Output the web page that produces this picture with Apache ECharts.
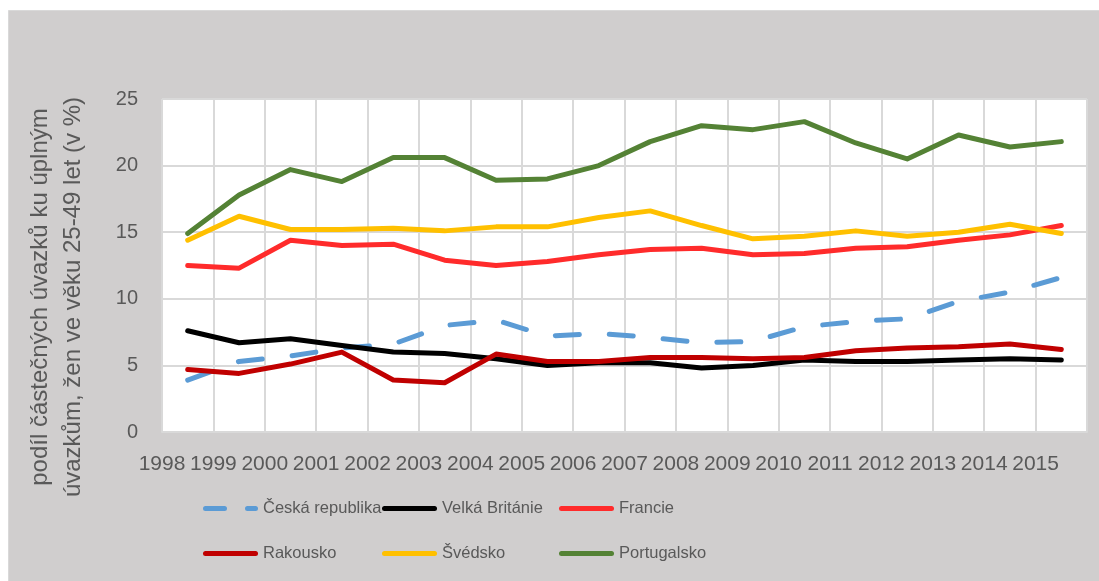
<!DOCTYPE html>
<html>
<head>
<meta charset="utf-8">
<script src="https://cdn.jsdelivr.net/npm/echarts@6/dist/echarts.min.js"></script>
<style>
html,body{margin:0;padding:0;background:#ffffff;}
#chart{width:1099px;height:581px;}
</style>
</head>
<body>
<div id="chart"></div>
<script>
// ---- data ----
var years = ['1998','1999','2000','2001','2002','2003','2004','2005','2006','2007','2008','2009','2010','2011','2012','2013','2014','2015'];
var yTicks = { min: 0, max: 25, interval: 5 };
var ceskaRepublika = [3.9, 5.3, 5.7, 6.3, 6.6, 8.0, 8.4, 7.2, 7.4, 7.1, 6.7, 6.8, 7.9, 8.3, 8.5, 9.8, 10.5, 11.6];
var velkaBritanie  = [7.6, 6.7, 7.0, 6.5, 6.0, 5.9, 5.5, 5.0, 5.2, 5.2, 4.8, 5.0, 5.4, 5.3, 5.3, 5.4, 5.5, 5.4];
var francie        = [12.5, 12.3, 14.4, 14.0, 14.1, 12.9, 12.5, 12.8, 13.3, 13.7, 13.8, 13.3, 13.4, 13.8, 13.9, 14.4, 14.8, 15.5];
var rakousko       = [4.7, 4.4, 5.1, 6.0, 3.9, 3.7, 5.85, 5.3, 5.3, 5.6, 5.6, 5.5, 5.6, 6.1, 6.3, 6.4, 6.6, 6.2];
var svedsko        = [14.4, 16.2, 15.2, 15.2, 15.3, 15.1, 15.4, 15.4, 16.1, 16.6, 15.5, 14.5, 14.7, 15.1, 14.7, 15.0, 15.6, 14.9];
var portugalsko    = [14.9, 17.8, 19.7, 18.8, 20.6, 20.6, 18.9, 19.0, 20.0, 21.8, 23.0, 22.7, 23.3, 21.7, 20.5, 22.3, 21.4, 21.8];
var seriesNames = ['Česká republika','Velká Británie','Francie','Rakousko','Švédsko','Portugalsko'];
var seriesData = [ceskaRepublika, velkaBritanie, francie, rakousko, svedsko, portugalsko];
var seriesColors = ['#5B9BD5','#000000','#FF2B2B','#C00000','#FFC000','#548235'];
var yAxisTitle = 'podíl částečných úvazků ku úplným\núvazkům, žen ve věku 25-49 let (v %)';

var FONT = 'Liberation Sans, Arial, sans-serif';
var TXT = '#595959';

var series = seriesNames.map(function (n, i) {
  return {
    name: n,
    type: 'line',
    xAxisIndex: 0,
    data: seriesData[i],
    symbol: 'none',
    smooth: false,
    lineStyle: {
      color: seriesColors[i],
      width: 5,
      type: i === 0 ? [24, 30] : 'solid',
      cap: 'round',
      join: 'round'
    },
    itemStyle: { color: seriesColors[i] },
    emphasis: { disabled: true }
  };
});

// legend icon shapes (rounded bars), 55 x 5
var solidIcon = 'path://M2.5,0H52.5A2.5,2.5,0,0,1,52.5,5H2.5A2.5,2.5,0,0,1,2.5,0Z';
var dashIcon = 'path://M2.5,0H21.5A2.5,2.5,0,0,1,21.5,5H2.5A2.5,2.5,0,0,1,2.5,0Z' +
               'M44.5,0H52.5A2.5,2.5,0,0,1,52.5,5H44.5A2.5,2.5,0,0,1,44.5,0Z';

var legendPos = [
  [203, 500], [382, 500], [559, 500],
  [203, 545], [382, 545], [559, 545]
];
var legends = seriesNames.map(function (n, i) {
  return {
    data: [{ name: n, icon: i === 0 ? dashIcon : solidIcon }],
    left: legendPos[i][0],
    top: legendPos[i][1],
    padding: 0,
    itemWidth: 55,
    itemHeight: 5,
    symbolKeepAspect: false,
    selectedMode: false,
    itemStyle: { color: seriesColors[i], borderWidth: 0 },
    textStyle: { fontFamily: FONT, fontSize: 16.5, color: TXT }
  };
});

var chart = echarts.init(document.getElementById('chart'), null, { renderer: 'canvas' });
chart.setOption({
  animation: false,
  backgroundColor: '#ffffff',
  graphic: [
    {
      type: 'rect', z: -10,
      shape: { x: 8.5, y: 10.5, width: 1092, height: 572 },
      style: { fill: '#D0CECE', stroke: '#D9D9D9', lineWidth: 1 }
    },
    {
      type: 'text', z: 10,
      x: 57, y: 297, rotation: Math.PI / 2,
      style: {
        text: yAxisTitle, fontFamily: FONT, fontSize: 24, lineHeight: 33,
        fill: TXT, align: 'center', verticalAlign: 'middle'
      }
    }
  ],
  grid: {
    left: 162, right: 12, top: 99, bottom: 149,
    show: true, backgroundColor: '#ffffff', borderWidth: 0
  },
  legend: legends,
  xAxis: [
    {
      type: 'category',
      data: years,
      boundaryGap: true,
      axisLine: { show: true, lineStyle: { color: '#D9D9D9', width: 2 } },
      axisTick: { show: false },
      axisLabel: { show: false },
      splitLine: { show: true, lineStyle: { color: '#D9D9D9', width: 2 } }
    },
    {
      type: 'category',
      data: years.concat(['']),
      boundaryGap: false,
      position: 'bottom',
      axisLine: { show: false },
      axisTick: { show: false },
      splitLine: { show: false },
      axisLabel: { show: true, interval: 0, margin: 22, fontFamily: FONT, fontSize: 21, color: TXT }
    }
  ],
  yAxis: {
    type: 'value',
    min: yTicks.min, max: yTicks.max, interval: yTicks.interval,
    axisLine: { show: false },
    axisTick: { show: false },
    axisLabel: { margin: 24, fontFamily: FONT, fontSize: 20, color: TXT },
    splitLine: { show: true, lineStyle: { color: '#D9D9D9', width: 2 } }
  },
  series: series
});
</script>
</body>
</html>
